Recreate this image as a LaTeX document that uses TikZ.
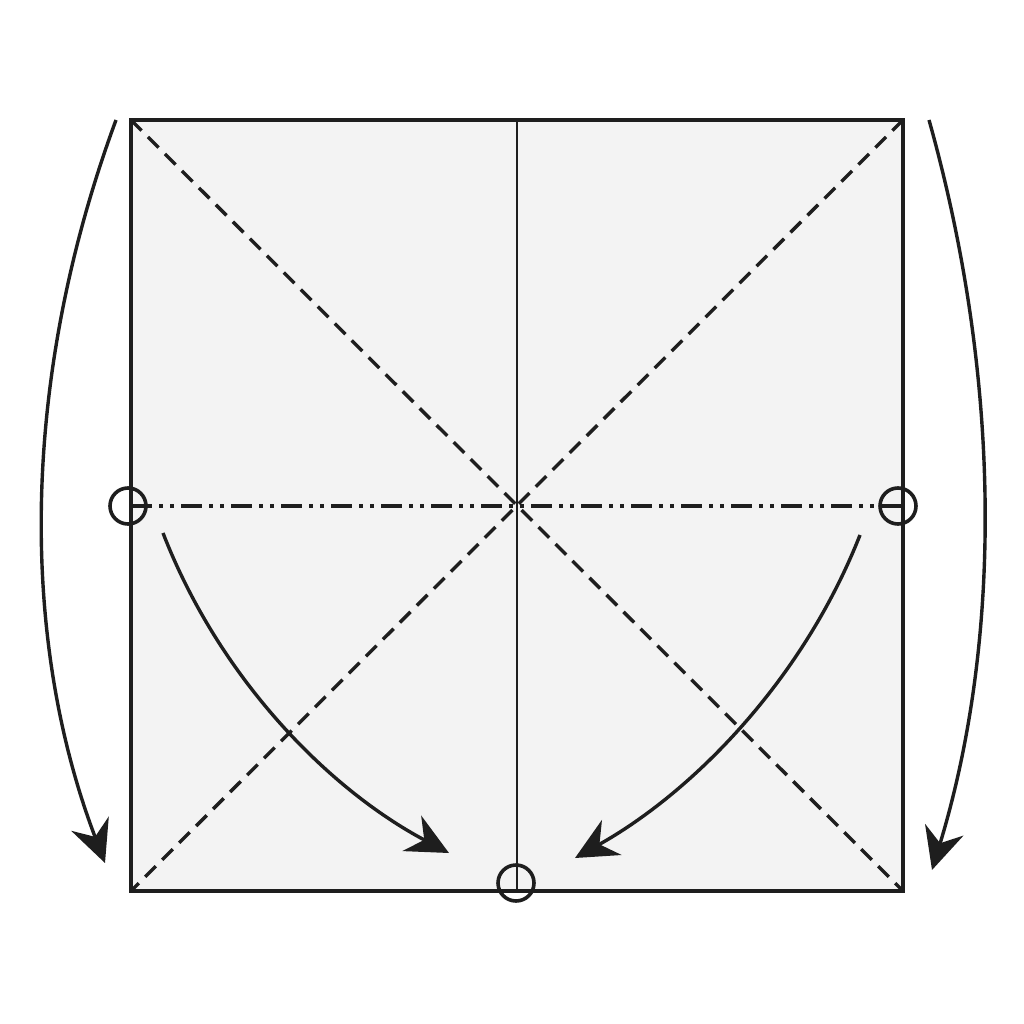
\documentclass[tikz,border=0pt]{standalone}
\usetikzlibrary{arrows.meta}
\definecolor{paper}{HTML}{F3F3F3}
\definecolor{ink}{HTML}{1E1E1E}
\tikzset{
  edge/.style={draw=ink, line width=4.4pt},
  valley/.style={draw=ink, line width=3.4pt, dash pattern=on 15pt off 9pt},
  mountain/.style={draw=ink, line width=3.4pt, dash pattern=on 21pt off 7pt on 4pt off 7pt on 4pt off 7pt},
  crease/.style={draw=ink, line width=1.7pt},
  pivot/.style={draw=ink, line width=3.6pt},
  foldarrow/.style={draw=ink, line width=3.4pt, -{Stealth[length=42pt,width=40pt,inset=14pt]}},
}
\begin{document}
\begin{tikzpicture}[x=1pt,y=-1pt]
\useasboundingbox (0,0) rectangle (1024,1024);
\coordinate (tl) at (131,120);
\coordinate (tr) at (903,120);
\coordinate (br) at (903,891);
\coordinate (bl) at (131,891);
\coordinate (c) at (517,506);
\coordinate (ml) at (131,506);
\coordinate (mr) at (903,506);
\coordinate (mt) at (517,120);
\coordinate (mb) at (517,891);
\fill[paper] (tl) rectangle (br);
\draw[crease] (mt) -- (mb);
\draw[valley] (tl) -- (br);
\draw[valley] (tr) -- (bl);
\draw[mountain] (ml) -- (mr);
\draw[edge] (tl) rectangle (br);
\draw[pivot] (128,506) circle (18);
\draw[pivot] (898,506) circle (18);
\draw[pivot] (516,883) circle (18);
\coordinate (a1s) at (116,120);
\coordinate (a1e) at (105,863);
\coordinate (a2s) at (929,120);
\coordinate (a2e) at (932,870);
\coordinate (a3s) at (163,533);
\coordinate (a3e) at (449,853);
\coordinate (a4s) at (860,535);
\coordinate (a4e) at (575,858);
\draw[foldarrow] (a1s) .. controls (20,380) and (20,640) .. (a1e);
\draw[foldarrow] (a2s) .. controls (1002,380) and (1002,640) .. (a2e);
\draw[foldarrow] (a3s) .. controls (220,680) and (330,790) .. (a3e);
\draw[foldarrow] (a4s) .. controls (803,680) and (693,792) .. (a4e);
\end{tikzpicture}
\end{document}
